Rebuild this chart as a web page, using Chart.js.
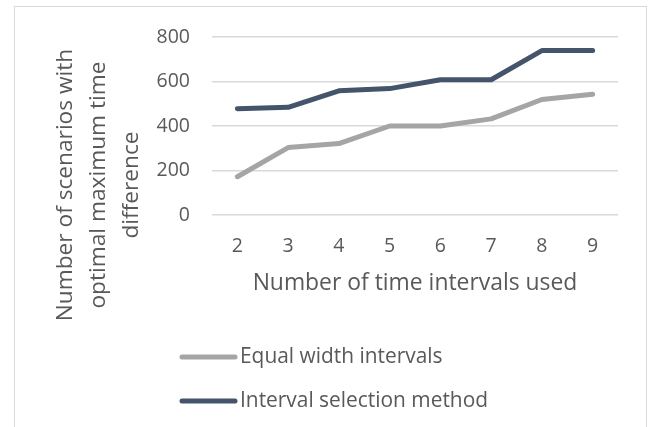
<!DOCTYPE html>
<html>
<head>
<meta charset="utf-8">
<script src="https://cdn.jsdelivr.net/npm/chart.js@4/dist/chart.umd.min.js"></script>
<style>
  html, body { margin: 0; padding: 0; background: #ffffff; }
  body { width: 649px; height: 427px; position: relative; overflow: hidden; }
  #frame { position: absolute; left: 14px; top: 6px; width: 633px; height: 440px;
           border: 1.5px solid #d9d9d9; box-sizing: border-box; }
  #wrap { position: absolute; left: 0; top: 0; width: 649px; height: 427px; }
</style>
</head>
<body>
<div id="frame"></div>
<div id="wrap"><canvas id="c" width="649" height="427"></canvas></div>
<script>
// Number of time intervals used
const categories = ['2', '3', '4', '5', '6', '7', '8', '9'];
// Scenarios with optimal maximum time difference
const equalWidth = [172, 303, 321, 400, 400, 432, 519, 543];
const intervalSelection = [478, 484, 558, 568, 608, 608, 739, 739];
const yTicks = [0, 200, 400, 600, 800];
const yTitleLines = ['Number of scenarios with', 'optimal maximum time', 'difference'];
const xTitle = 'Number of time intervals used';
const seriesNames = ['Equal width intervals', 'Interval selection method'];
const seriesColors = ['#a5a5a5', '#44546a'];

const FONT = '"Open Sans", "Noto Sans", sans-serif';
const TEXT = '#595959';

// Rotated, multi-line y-axis title and a stacked legend below the plot
const decorations = {
  id: 'decorations',
  afterDraw(chart) {
    const ctx = chart.ctx;
    ctx.save();
    ctx.fillStyle = TEXT;
    ctx.font = '22.7px ' + FONT;
    ctx.textAlign = 'center';
    ctx.textBaseline = 'middle';
    const cy = 185;
    const xs = [66, 99, 132];
    yTitleLines.forEach((line, i) => {
      ctx.save();
      ctx.translate(xs[i], cy);
      ctx.rotate(-Math.PI / 2);
      ctx.fillText(line, 0, 0);
      ctx.restore();
    });
    ctx.restore();

    const items = chart.options.plugins.legend.labels.generateLabels(chart);
    const rows = [357, 401];
    items.forEach((it, i) => {
      const y = rows[i];
      ctx.save();
      ctx.strokeStyle = it.strokeStyle;
      ctx.lineWidth = 5;
      ctx.lineCap = 'round';
      ctx.beginPath();
      ctx.moveTo(182, y);
      ctx.lineTo(235, y);
      ctx.stroke();
      ctx.fillStyle = TEXT;
      ctx.font = '20.9px ' + FONT;
      ctx.textAlign = 'left';
      ctx.textBaseline = 'middle';
      ctx.fillText(it.text, 240, y);
      ctx.restore();
    });
  }
};

new Chart(document.getElementById('c'), {
  type: 'line',
  data: {
    labels: categories,
    datasets: [
      { label: seriesNames[0], data: equalWidth, borderColor: seriesColors[0], backgroundColor: seriesColors[0] },
      { label: seriesNames[1], data: intervalSelection, borderColor: seriesColors[1], backgroundColor: seriesColors[1] }
    ]
  },
  options: {
    responsive: false,
    animation: false,
    devicePixelRatio: 1,
    layout: { padding: { left: 0, right: 31, top: 37, bottom: 122 } },
    elements: {
      line: { borderWidth: 5, tension: 0, borderCapStyle: 'round', borderJoinStyle: 'round' },
      point: { radius: 0, hoverRadius: 0 }
    },
    plugins: {
      legend: { display: false },
      tooltip: { enabled: false }
    },
    scales: {
      x: {
        offset: true,
        grid: { display: false, drawTicks: false },
        border: { display: false },
        ticks: { color: TEXT, font: { family: FONT, size: 19.5 }, padding: 20, maxRotation: 0 },
        title: { display: true, text: xTitle, color: TEXT, font: { family: FONT, size: 22.9 }, padding: { top: 0, bottom: 8 } },
        afterFit(scale) { scale.height = 90; }
      },
      y: {
        min: 0,
        max: 800,
        afterBuildTicks(scale) { scale.ticks = yTicks.map(v => ({ value: v })); },
        grid: { color: '#d9d9d9', lineWidth: 1.5, drawTicks: false },
        border: { display: false },
        ticks: { color: TEXT, font: { family: FONT, size: 19.5 }, padding: 22 },
        afterFit(scale) { scale.width = 212; }
      }
    }
  },
  plugins: [decorations]
});
</script>
</body>
</html>
